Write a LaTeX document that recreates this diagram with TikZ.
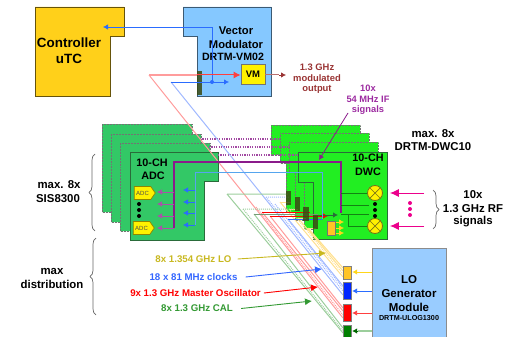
\documentclass[tikz,border=0pt]{standalone}
\usepackage{fontspec}
\setmainfont{Liberation Sans}
\usetikzlibrary{arrows.meta,shapes.symbols,decorations.pathreplacing}
\definecolor{ctrlY}{HTML}{FFD01A}
\definecolor{vmB}{HTML}{85C8FF}
\definecolor{loB}{HTML}{99CCFF}
\definecolor{adcG}{HTML}{33C866}
\definecolor{dwcG}{HTML}{22EE22}
\definecolor{edgeG}{HTML}{2A6B3A}
\definecolor{purp}{HTML}{8B1A8B}
\definecolor{lblP}{HTML}{9C2AA0}
\definecolor{lblR}{HTML}{993333}
\definecolor{palR}{HTML}{FF9C9C}
\definecolor{palB}{HTML}{A0B8FF}
\definecolor{palG}{HTML}{9CCE9C}
\definecolor{palY}{HTML}{FFE08E}
\definecolor{lblY}{HTML}{C8B820}
\definecolor{lblB}{HTML}{3366FF}
\definecolor{lblG}{HTML}{339933}
\definecolor{sigB}{HTML}{2A6CFF}
\definecolor{adcB}{HTML}{55A5EE}
\definecolor{conn}{HTML}{3A4A12}
\definecolor{gold}{HTML}{FFC425}
\tikzset{
  every node/.style={font=\bfseries,align=center,inner sep=0pt},
  backadc/.style={fill=adcG,draw=black!55,densely dotted,line width=0.5pt},
  frontadc/.style={fill=adcG,draw=edgeG,line width=0.9pt},
  backdwc/.style={fill=dwcG,draw=black!55,densely dotted,line width=0.5pt},
  frontdwc/.style={fill=dwcG,draw=edgeG,line width=0.9pt},
  tip/.style={-{Latex[length=7pt,width=7pt]}},
  smalltip/.style={-{Latex[length=5pt,width=5.5pt]}},
  connbox/.style={fill=conn,fill opacity=0.85,minimum width=5.5pt,minimum height=14pt},
  lobox/.style={draw=black!50,line width=0.8pt,fill=#1,minimum width=8.5pt},
  adcchip/.style={shape=signal,signal to=east,signal pointer angle=110,fill=yellow,draw=olive,line width=0.7pt,minimum width=21pt,minimum height=13pt,inner sep=0.5pt,font=\fontsize{6}{6}\selectfont,text=black!70},
  mixer/.style={circle,draw=olive!80!black,line width=0.8pt,fill=yellow,minimum size=15pt},
  dot/.style={circle,fill=#1,minimum size=4pt},
  bigbrace/.style={draw=black!60,line width=0.7pt,decorate,decoration={brace,amplitude=6pt}},
  pline/.style={purp,line width=1.4pt},
  pdash/.style={purp!80,line width=1.3pt,dash pattern=on 1.2pt off 1.2pt},
}
\newcommand{\fs}[1]{\fontsize{#1}{#1}\selectfont}
\begin{document}
\begin{tikzpicture}[x=1pt,y=-1pt]
\useasboundingbox (0,0) rectangle (514,337);
% controller and vector modulator
\draw[fill=ctrlY,draw=black!60!ctrlY,line width=0.8pt] (35,7)--(124,7)--(124,36)--(110,36)--(110,96)--(35,96)--cycle;
\draw[fill=vmB,draw=black!55!vmB,line width=0.8pt] (183,7)--(271,7)--(271,96)--(197,96)--(197,36)--(183,36)--cycle;
\node[font=\bfseries\fs{13.4}] (ctrl) at (69,43) {Controller};
\node[font=\bfseries\fs{13.4}] (utc) at (69,59) {uTC};
\node[font=\bfseries\fs{11.2}] (vm1) at (236,31) {Vector};
\node[font=\bfseries\fs{11.2}] (vm2) at (236,44) {Modulator};
\node[font=\bfseries\fs{10.6}] (vm3) at (233,57) {DRTM-VM02};
\node[draw=black!55,line width=0.8pt,fill=yellow,minimum width=24pt,minimum height=20pt,font=\bfseries\fs{9.5}] (vmchip) at (253,74) {VM};
\node[connbox,minimum height=24pt,minimum width=5pt] (vmconn) at (199.5,83) {};
% ADC boards
\foreach \dx/\dy in {-28/-28,-19/-18,-10/-9}{
  \begin{scope}[shift={(\dx,\dy)}]
   \draw[backadc] (130,152)--(220,152)--(220,181)--(204,181)--(204,240)--(130,240)--cycle;
  \end{scope}}
\draw[frontadc] (130,152)--(218,152)--(218,181)--(204,181)--(204,240)--(130,240)--cycle;
% DWC boards
\foreach \dx/\dy in {-27/-27,-18/-19,-9/-10}{
  \begin{scope}[shift={(\dx,\dy)}]
   \draw[backdwc] (298,152)--(387,152)--(387,239)--(313,239)--(313,182)--(298,182)--cycle;
  \end{scope}}
\draw[frontdwc] (298,152)--(387,152)--(387,239)--(313,239)--(313,182)--(298,182)--cycle;
% inter-board dashed purple
\coordinate (pa1) at (200,139); \coordinate (pb1) at (281,139);
\coordinate (pa2) at (209,147); \coordinate (pb2) at (289,147);
\coordinate (pa3) at (218,155); \coordinate (pb3) at (298,155);
\draw[pdash] (pa1)--(pb1); \draw[pdash] (pa2)--(pb2); \draw[pdash] (pa3)--(pb3);
% pale bundles
\coordinate (rs) at (149,75); \coordinate (re1) at (343,318);
\coordinate (bs) at (171,82); \coordinate (be1) at (343,295);
\draw[palY,line width=1pt] (280,202)--(343,277) (298,218)--(343,271) (308,228)--(343,268);
\draw[palY,line width=1pt,densely dotted] (289,209)--(343,274);
\draw[palY,line width=1pt] (280,202)--(291,202) (298,218)--(306,218) (308,228)--(316,228) (289,209)--(298,209);
\draw[palB,line width=1pt] (bs)--(be1) (288,219)--(343,286);
\draw[palB,line width=1pt,densely dotted] (266,197)--(343,291) (266,197)--(289,197) (275,204)--(343,288);
\draw[palR,line width=1pt] (rs)--(re1) (262,212)--(343,311) (270,216)--(343,308);
\draw[palR,line width=1pt,densely dotted] (256,207)--(343,315);
\draw[palG,line width=1pt] (227,194)--(343,333) (254,214)--(343,328) (227,194)--(288,194);
\draw[palG,line width=1pt,densely dotted] (243,209)--(343,331) (243,209)--(296,209);
\draw[palG!75!black,line width=1pt] (254,214.5)--(318,214.5);
% horizontals in DWC
\draw[red,line width=0.8pt] (262,212)--(310,212);
\draw[red,line width=0.8pt,smalltip] (270,216)--(328,216);
\draw[sigB,line width=0.8pt] (288,219)--(322,219);
\draw[edgeG,line width=0.9pt,smalltip] (318,215)--(338,215);
% connectors on DWC
\node[connbox] (c1) at (288.5,198) {};
\node[connbox] (c2) at (297.5,204) {};
\node[connbox] (c3) at (306,214) {};
\node[connbox] (c4) at (315.5,221.5) {};
% vector modulator signals
\coordinate (ctip) at (103,27);
\node[dot=sigB] (vmdot) at (212,82) {};
\draw[sigB,line width=0.8pt,smalltip] (vmdot.center)--(212,27)--(ctip);
\draw[sigB,line width=0.8pt,smalltip] (bs)--(229,82);
\draw[palR,line width=1.2pt] (rs)--(197,75);
\draw[red!60!palR,line width=1pt,tip] (197,75)--(vmchip.west |- 197,75);
\coordinate (vmout) at (286,75);
\draw[lblR!70,line width=1pt] (vmchip.east |- vmout)--(279,75);
\draw[lblR,line width=0.8pt,smalltip] (279,75)--(vmout);
% purple and blue main lines
\coordinate (pv) at (174,228);
\draw[pline] (pv)--(174,162)--(341,162)--(341,213);
\foreach \y in {192,204,216,228}{\coordinate (ap\y) at (157,\y); \draw[purp!75,line width=0.9pt,smalltip] (174,\y)--(ap\y);}
\draw[adcB,line width=1pt] (195,225)--(195,172)--(322,172)--(322,219);
\foreach \y in {190,202,213,225}{\coordinate (ab\y) at (183,\y); \draw[sigB,line width=0.8pt,smalltip] (195,\y)--(ab\y);}
% ADC content
\node[font=\bfseries\fs{10.8}] (adc1t) at (152,163) {10-CH};
\node[font=\bfseries\fs{10.8}] (adc2t) at (153,176) {ADC};
\node[adcchip] (adcA) at (142.5,193) {ADC};
\node[adcchip] (adcB) at (141.5,228) {ADC};
\foreach \y [count=\i] in {204,210,216}{\node[dot=black] (ad\i) at (139,\y) {};}
% DWC content
\node[font=\bfseries\fs{10.8}] (dwc1t) at (368,158) {10-CH};
\node[font=\bfseries\fs{10.8}] (dwc2t) at (368,172) {DWC};
\node[mixer] (m1) at (375,193) {};
\node[mixer] (m2) at (375,226) {};
\foreach \m in {m1,m2}{
 \draw[olive!80!black,line width=0.7pt] (\m.north west)--(\m.south east) (\m.north east)--(\m.south west);}
\draw[black!45!dwcG,line width=0.9pt] (341,193)--(m1.west) (341,205)--(369,205) (341,214)--(369,214) (348,214)--(348,226)--(m2.west);
\foreach \y [count=\i] in {204,210,216}{\node[dot=black] (dd\i) at (375,\y) {};}
\node[draw=black!55,line width=0.7pt,fill=gold,minimum width=8pt,minimum height=14pt] (lochip) at (331,228) {};
\foreach \y in {222,228,233}{\coordinate (ly\y) at (344,\y); \draw[gold!70!yellow,line width=0.8pt,smalltip] (335.5,\y)--(ly\y);}
% RF inputs
\coordinate (rf1a) at (424,193); \coordinate (rf2a) at (424,226);
\draw[magenta,line width=1pt,-{Latex[length=9pt,width=8pt]}] (rf1a)--([xshift=7pt]m1.east);
\draw[magenta,line width=1pt,-{Latex[length=9pt,width=8pt]}] (rf2a)--([xshift=7pt]m2.east);
\foreach \y [count=\i] in {203,209,215}{\node[dot=magenta] (md\i) at (410,\y) {};}
% braces
\coordinate (br1a) at (433,190); \coordinate (br1b) at (433,229);
\coordinate (br2a) at (95,231); \coordinate (br2b) at (95,154);
\coordinate (br3a) at (96,315); \coordinate (br3b) at (96,238);
\draw[bigbrace] (br1a)--(br1b);
\draw[bigbrace] (br2a)--(br2b);
\draw[bigbrace] (br3a)--(br3b);
% labels
\node[text=lblR,font=\bfseries\fs{9.4}] (o1) at (317,67) {1.3 GHz};
\node[text=lblR,font=\bfseries\fs{9.4}] (o2) at (317,78) {modulated};
\node[text=lblR,font=\bfseries\fs{9.4}] (o3) at (317,89) {output};
\node[text=lblP,font=\bfseries\fs{9.3}] (i1) at (368,88) {10x};
\node[text=lblP,font=\bfseries\fs{9.3}] (i2) at (368,99) {54 MHz IF};
\node[text=lblP,font=\bfseries\fs{9.3}] (i3) at (368,110) {signals};
\coordinate (ifs) at (348,113); \coordinate (ift) at (319,160);
\draw[purp,line width=0.8pt,smalltip] (ifs)--(ift);
\node[font=\bfseries\fs{11.4}] (d1) at (433,134) {max. 8x};
\node[font=\bfseries\fs{11.4}] (d2) at (433,147) {DRTM-DWC10};
\node[font=\bfseries\fs{11.4}] (r1) at (473,195) {10x};
\node[font=\bfseries\fs{11.4}] (r2) at (473,209) {1.3 GHz RF};
\node[font=\bfseries\fs{11.4}] (r3) at (473,222) {signals};
\node[font=\bfseries\fs{11.4}] (s1) at (59,185) {max. 8x};
\node[font=\bfseries\fs{11.4}] (s2) at (58,199) {SIS8300};
\node[font=\bfseries\fs{11.4}] (md1t) at (52,271) {max};
\node[font=\bfseries\fs{11.4}] (md2t) at (52,284) {distribution};
\node[text=lblY,font=\bfseries\fs{9.7}] (lY) at (193.5,259) {8x 1.354 GHz LO};
\node[text=lblB,font=\bfseries\fs{9.7}] (lB) at (193.5,277) {18 x 81 MHz clocks};
\node[text=red,font=\bfseries\fs{9.7}] (lR) at (195.5,293) {9x 1.3 GHz Master Oscillator};
\node[text=lblG,font=\bfseries\fs{9.7}] (lG) at (197,308.5) {8x 1.3 GHz CAL};
\coordinate (tY) at (326,253); \coordinate (tB) at (322,269); \coordinate (tR) at (318,287); \coordinate (tG) at (312,301);
\draw[lblY,line width=0.9pt,tip] ([xshift=6pt]lY.east)--(tY);
\draw[lblB,line width=0.9pt,tip] ([xshift=8pt]lB.east)--(tB);
\draw[red,line width=0.9pt,tip] ([xshift=3pt]lR.east)--(tR);
\draw[lblG,line width=0.9pt,tip] ([xshift=8pt]lG.east)--(tG);
% LO module
\node[lobox=gold,minimum height=13pt] (bY) at (347.5,272.5) {};
\node[lobox=blue!85!cyan,minimum height=17pt] (bB) at (347.5,290.5) {};
\node[lobox=red,minimum height=17pt] (bR) at (347.5,312.5) {};
\node[lobox=green!50!black,minimum height=12pt] (bG) at (347.5,331) {};
\node[draw=black!45,line width=0.9pt,fill=loB,minimum width=74pt,minimum height=89pt] (lo) at (409,292.5) {};
\node[font=\bfseries\fs{11.5}] (lo1) at (409,280) {LO};
\node[font=\bfseries\fs{11.5}] (lo2) at (409,294) {Generator};
\node[font=\bfseries\fs{11.5}] (lo3) at (409,307) {Module};
\node[font=\bfseries\fs{7.2}] (lo4) at (409,318) {DRTM-ULOG1300};
\coordinate (sY) at (372,272); \coordinate (sB) at (372,291); \coordinate (sR) at (372,313); \coordinate (sG) at (372,331);
\draw[gold!70!yellow,line width=1pt,smalltip] (sY)--(bY.east|-sY);
\draw[sigB,line width=0.9pt,smalltip] (sB)--(bB.east|-sB);
\draw[red!75,line width=0.9pt,smalltip] (sR)--(bR.east|-sR);
\draw[palG,line width=1.2pt] (sG)--(358,331);
\draw[green!40!black,line width=0.8pt,smalltip] (358,331)--(bG.east|-sG);
\end{tikzpicture}
\end{document}
